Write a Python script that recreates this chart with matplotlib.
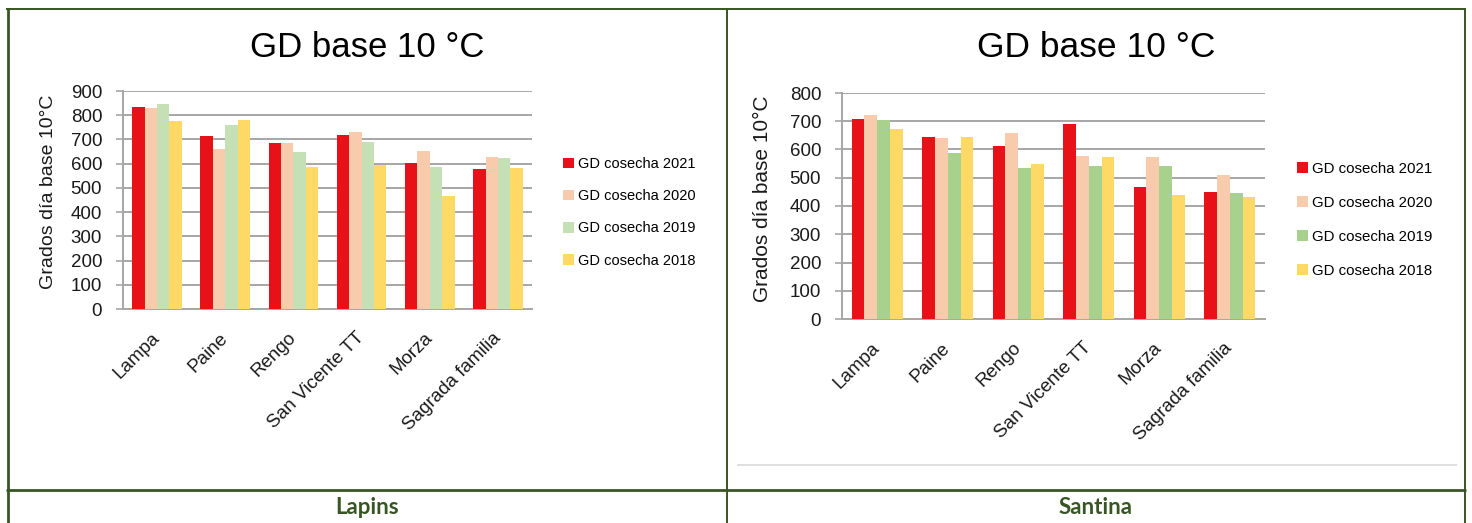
import matplotlib
matplotlib.use("Agg")
import matplotlib.pyplot as plt
import numpy as np
from matplotlib.patches import Patch
from matplotlib.lines import Line2D

plt.rcParams['font.family'] = ['Liberation Sans', 'DejaVu Sans']

# Data
sites = ['Lampa', 'Paine', 'Rengo', 'San Vicente TT', 'Morza', 'Sagrada familia']
seasons = ['GD cosecha 2021', 'GD cosecha 2020', 'GD cosecha 2019', 'GD cosecha 2018']

# Lapins
lapins_2021 = [836, 715, 687, 718, 601, 576]
lapins_2020 = [828, 662, 684, 731, 654, 629]
lapins_2019 = [845, 759, 648, 690, 587, 623]
lapins_2018 = [776, 781, 587, 596, 465, 582]

# Santina
santina_2021 = [708, 644, 613, 689, 466, 450]
santina_2020 = [722, 641, 660, 578, 573, 509]
santina_2019 = [703, 589, 533, 540, 542, 445]
santina_2018 = [672, 644, 547, 575, 438, 431]

W, H = 1472, 523
fig = plt.figure(figsize=(W / 100, H / 100), dpi=100)

def box(x0, y0, x1, y1):
    # pixel box (top-left origin) -> figure fraction
    return [x0 / W, 1 - y1 / H, (x1 - x0) / W, (y1 - y0) / H]

def draw_chart(rect, series, colors, ymax, leg_xy, leg_fs, leg_sp, ylab_fs, ylab_xy, title_x, title_fs):
    ax = fig.add_axes(rect)
    x = np.arange(len(sites))
    w = 1 / 5.5
    for i, (vals, c) in enumerate(zip(series, colors)):
        ax.bar(x + (i - 1.5) * w, vals, w, color=c, linewidth=0, zorder=3)
    ax.set_xlim(-0.5, len(sites) - 0.5)
    ax.set_ylim(0, ymax)
    ax.set_yticks(np.arange(0, ymax + 1, 100))
    ax.yaxis.grid(True, color='#A6A6A6', linewidth=1.4, zorder=0)
    for s in ['top', 'right']:
        ax.spines[s].set_visible(False)
    for s in ['left', 'bottom']:
        ax.spines[s].set_color('#A6A6A6')
        ax.spines[s].set_linewidth(1.4)
    ax.tick_params(axis='y', length=5, width=1.2, color='#A6A6A6',
                   labelsize=13.5, pad=10, labelcolor='#1a1a1a')
    ax.tick_params(axis='x', length=0, pad=19, labelsize=13.5, labelcolor='#1a1a1a')
    ax.set_xticks(x)
    ax.set_xticklabels(sites, rotation=45, ha='right', va='center', rotation_mode='anchor')
    ax.set_ylabel('Grados día base 10°C', fontsize=ylab_fs, color='#1a1a1a')
    ax.yaxis.set_label_coords(*ylab_xy)
    handles = [Patch(facecolor=c, edgecolor='none') for c in colors]
    fig.legend(handles, seasons, loc='upper left', bbox_to_anchor=leg_xy,
               frameon=False, fontsize=leg_fs, handlelength=0.75, handleheight=0.75,
               handletextpad=0.25, labelspacing=leg_sp, borderpad=0, borderaxespad=0)
    fig.text(title_x / W, 1 - 57 / H, 'GD base 10 °C', fontsize=title_fs,
             ha='center', va='baseline', color='black')
    return ax

red, salmon, yellow = '#E81118', '#F8CBAD', '#FFD966'

draw_chart(box(123, 91, 532, 309),
           [lapins_2021, lapins_2020, lapins_2019, lapins_2018],
           [red, salmon, '#C5E0B4', yellow], 900,
           (563 / W, 1 - 157 / H), 10.5, 1.25, 14, (-0.161, 0.539), 367, 25)

draw_chart(box(842, 93, 1265, 319),
           [santina_2021, santina_2020, santina_2019, santina_2018],
           [red, salmon, '#A9D18E', yellow], 800,
           (1297 / W, 1 - 162 / H), 10.8, 1.33, 15, (-0.165, 0.533), 1096, 25.5)

# table frame
green = '#375623'
def fline(x0, y0, x1, y1, lw, c=green):
    fig.add_artist(Line2D([x0 / W, x1 / W], [1 - y0 / H, 1 - y1 / H],
                          transform=fig.transFigure, color=c, linewidth=lw,
                          solid_capstyle='butt'))

fline(6, 8.5, 1466, 8.5, 1.4)
fline(7.5, 8, 7.5, 523, 2.0)
fline(727, 8, 727, 523, 1.4)
fline(1465, 8, 1465, 523, 1.4)
fline(6, 490, 1466, 490, 2.0)
fline(737, 465, 1457, 465, 1.2, c='#D9D9D9')

fig.text(367 / W, 1 - 508 / H, 'Lapins', fontsize=16, fontweight='bold',
         family=['Lato', 'DejaVu Sans'], color=green, ha='center', va='center')
fig.text(1096 / W, 1 - 508 / H, 'Santina', fontsize=16, fontweight='bold',
         family=['Lato', 'DejaVu Sans'], color=green, ha='center', va='center')

fig.savefig('out.png', dpi=100)
